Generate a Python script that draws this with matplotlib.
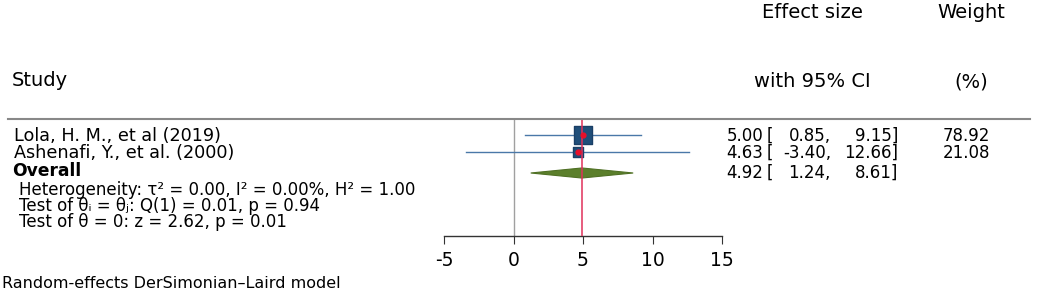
import matplotlib
matplotlib.use("Agg")
import matplotlib.pyplot as plt
from matplotlib.lines import Line2D
from matplotlib.patches import Polygon

studies = ["Lola, H. M., et al (2019)", "Ashenafi, Y., et al. (2000)"]
effects = [5.00, 4.63]
lower = [0.85, -3.40]
upper = [9.15, 12.66]
weights = [78.92, 21.08]
overall = [4.92, 1.24, 8.61]
stats_lines = [
    "Heterogeneity: \u03c4\u00b2 = 0.00, I\u00b2 = 0.00%, H\u00b2 = 1.00",
    "Test of \u03b8\u1d62 = \u03b8\u2c7c: Q(1) = 0.01, p = 0.94",
    "Test of \u03b8 = 0: z = 2.62, p = 0.01",
]
xticks = [-5, 0, 5, 10, 15]
footnote = "Random-effects DerSimonian\u2013Laird model"

plt.rcParams['font.family'] = ['DejaVu Sans']

W, H = 1040, 293
fig = plt.figure(figsize=(W / 100, H / 100), dpi=100)

def px(x, y):
    return x / W, 1 - y / H

def ftext(x, y, s, **kw):
    fx, fy = px(x, y)
    kw.setdefault('va', 'center')
    kw.setdefault('fontsize', 12)
    fig.text(fx, fy, s, **kw)

# forest axes: x -5..15 -> px 444..722, y px 120..236
ax_l, ax_r, ax_t, ax_b = 444, 722, 120, 236
ax = fig.add_axes([ax_l / W, 1 - ax_b / H, (ax_r - ax_l) / W, (ax_b - ax_t) / H])
ax.set_xlim(-5, 15)
row_px = [135, 152, 173]
unit = 18.0
y0 = 1 - (row_px[0] - ax_t) / unit
y1 = 1 + (ax_b - row_px[0]) / unit
ax.set_ylim(y1, y0)
rows = [1 + (p - row_px[0]) / unit for p in row_px]

for s in ['top', 'left', 'right']:
    ax.spines[s].set_visible(False)
ax.spines['bottom'].set_color('#333333')
ax.spines['bottom'].set_linewidth(1.0)
ax.set_yticks([])
ax.set_xticks(xticks)
ax.set_xticklabels([str(t) for t in xticks], fontsize=13.5)
ax.tick_params(axis='x', direction='out', length=6, color='#333333', pad=5)
ax.patch.set_alpha(0)

ax.axvline(0, color='#a0a0a0', lw=1.0, zorder=1)
ax.axvline(overall[0], color='#e0305a', lw=1.1, zorder=5)

for i in range(len(studies)):
    ax.plot([lower[i], upper[i]], [rows[i], rows[i]], color='#4a78a8', lw=1.0, zorder=2)
    ax.scatter([effects[i]], [rows[i]], marker='s', s=weights[i] * 2.3,
               color='#1f4e79', edgecolors='#1a3f66', zorder=3)
    ax.scatter([effects[i]], [rows[i]], marker='o', s=12, color='#e8102a', zorder=6)

dh = 0.28
diamond = Polygon([[overall[1], rows[2]], [overall[0], rows[2] - dh],
                   [overall[2], rows[2]], [overall[0], rows[2] + dh]],
                  closed=True, facecolor='#5b7f2b', edgecolor='#4f7024', lw=0.8, zorder=4)
ax.add_patch(diamond)

# top rule
fx0, fy = px(8, 119)
fx1, _ = px(1030, 119)
fig.add_artist(Line2D([fx0, fx1], [fy, fy], color='#888888', lw=1.5))

# headers
hs = 14
ftext(12, 81, "Study", fontsize=hs)
ftext(812, 13, "Effect size", fontsize=hs, ha='center')
ftext(812, 82, "with 95% CI", fontsize=hs, ha='center')
ftext(971, 13, "Weight", fontsize=hs, ha='center')
ftext(971, 82, "(%)", fontsize=hs, ha='center')

# study rows
for i, name in enumerate(studies):
    y = row_px[i] + 1
    ftext(14, y, name, fontsize=12.7)
    ftext(763, y, f"{effects[i]:.2f}", ha='right')
    ftext(767, y, "[", ha='left')
    ftext(831, y, f"{lower[i]:.2f},", ha='right')
    ftext(898, y, f"{upper[i]:.2f}]", ha='right')
    ftext(990, y, f"{weights[i]:.2f}", ha='right')

# overall
y = row_px[2]
ftext(12, y - 2, "Overall", fontweight='bold', fontsize=12.3)
ftext(763, y, f"{overall[0]:.2f}", ha='right')
ftext(767, y, "[", ha='left')
ftext(831, y, f"{overall[1]:.2f},", ha='right')
ftext(898, y, f"{overall[2]:.2f}]", ha='right')

for j, s in enumerate(stats_lines):
    ftext(19, 190 + j * 16, s, fontsize=12)

ftext(2, 284, footnote, fontsize=11.5)

fig.savefig("out.png", dpi=100)
